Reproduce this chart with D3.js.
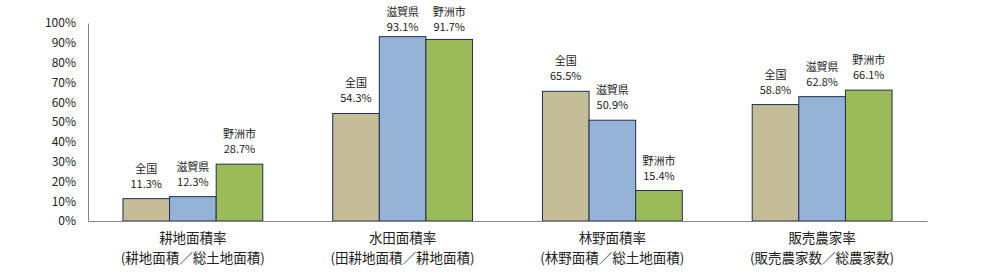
<!DOCTYPE html>
<html lang="ja">
<head>
<meta charset="utf-8" />
<title>耕地・林野・販売農家率</title>
<script src="https://cdn.jsdelivr.net/npm/d3@7"></script>
<style>
  body { margin: 0; background: #fff; }
  svg text { font-family: "Noto Sans CJK JP", "Noto Sans", sans-serif; fill: #222; }
</style>
</head>
<body>
<div id="chart"></div>
<script>
// data
const categories = ["耕地面積率", "水田面積率", "林野面積率", "販売農家率"];
const subLabels = ["(耕地面積／総土地面積)", "(田耕地面積／耕地面積)", "(林野面積／総土地面積)", "(販売農家数／総農家数)"];
const seriesNames = ["全国", "滋賀県", "野洲市"];
const zenkoku = [11.3, 54.3, 65.5, 58.8];
const shiga = [12.3, 93.1, 50.9, 62.8];
const yasu = [28.7, 91.7, 15.4, 66.1];
const yTicks = [0, 10, 20, 30, 40, 50, 60, 70, 80, 90, 100];

const colors = ["#C4BD97", "#95B3D7", "#9BBB59"];
const values = [zenkoku, shiga, yasu];

const width = 981, height = 273;
const m = { left: 88, right: 54, top: 23, bottom: 52 };

const svg = d3.select("#chart").append("svg")
  .attr("width", width).attr("height", height);

const x0 = d3.scaleBand().domain(categories)
  .range([m.left, width - m.right]).paddingInner(0).paddingOuter(0);
// bar width = band / (3 + 1.5 gap)
const bw = x0.bandwidth() / 4.5;
const x1 = d3.scaleBand().domain(seriesNames)
  .range([bw * 0.75, bw * 0.75 + bw * 3]);

const y = d3.scaleLinear().domain([0, 100]).range([height - m.bottom, m.top]);

// y axis
const yAxis = svg.append("g")
  .attr("transform", `translate(${m.left},0)`)
  .call(d3.axisLeft(y).tickValues(yTicks).tickSize(0).tickPadding(12).tickFormat(d => d + "%"));
yAxis.select(".domain").attr("stroke", "#868686");
yAxis.selectAll("text").style("font-size", "12px").attr("fill", "#222");

// bars
const rows = [];
categories.forEach((c, i) => {
  seriesNames.forEach((s, j) => rows.push({ cat: c, name: s, value: values[j][i], color: colors[j] }));
});

svg.append("g").selectAll("rect").data(rows).enter().append("rect")
  .attr("x", d => x0(d.cat) + x1(d.name))
  .attr("width", x1.bandwidth())
  .attr("y", d => y(d.value))
  .attr("height", d => y(0) - y(d.value))
  .attr("fill", d => d.color)
  .attr("stroke", "#1F2F4F")
  .attr("stroke-width", 1);

// data labels (pushed down when they would leave the chart top)
const valY = d => Math.max(y(d.value) - 11, 31);
const lab = svg.append("g").attr("text-anchor", "middle").style("font-size", "11px");
lab.selectAll("text.nm").data(rows).enter().append("text")
  .attr("class", "nm")
  .attr("x", d => x0(d.cat) + x1(d.name) + x1.bandwidth() / 2)
  .attr("y", d => valY(d) - 15)
  .text(d => d.name);
lab.selectAll("text.vl").data(rows).enter().append("text")
  .attr("class", "vl")
  .attr("x", d => x0(d.cat) + x1(d.name) + x1.bandwidth() / 2)
  .attr("y", valY)
  .text(d => d.value.toFixed(1) + "%");

// x axis
const xAxis = svg.append("g")
  .attr("transform", `translate(0,${y(0)})`)
  .call(d3.axisBottom(x0).tickSize(0).tickFormat(""));
xAxis.select(".domain").attr("stroke", "#868686");

const cl = svg.append("g").attr("text-anchor", "middle").style("font-size", "13.5px");
categories.forEach((c, i) => {
  const cx = x0(c) + x0.bandwidth() / 2;
  cl.append("text").attr("x", cx).attr("y", y(0) + 22).text(c);
  cl.append("text").attr("x", cx).attr("y", y(0) + 42).text(subLabels[i]);
});
</script>
</body>
</html>
